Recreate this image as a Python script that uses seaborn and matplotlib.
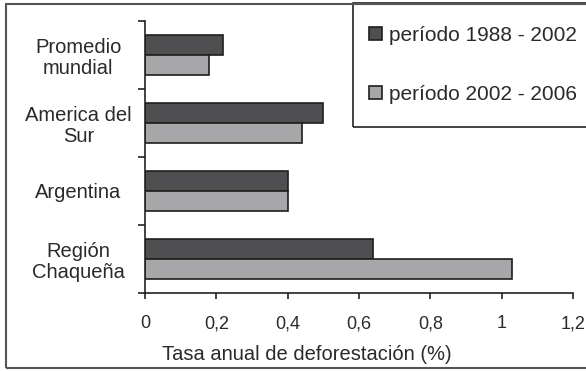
import numpy as np
import pandas as pd
import matplotlib
matplotlib.use("Agg")
import matplotlib.pyplot as plt
from matplotlib.patches import Rectangle
import seaborn as sns

# --- datos ---
regiones = ["Promedio\nmundial", "America del\nSur", "Argentina", "Región\nChaqueña"]
periodos = ["período 1988 - 2002", "período 2002 - 2006"]
tasa_1988_2002 = [0.22, 0.50, 0.40, 0.64]
tasa_2002_2006 = [0.18, 0.44, 0.40, 1.03]
xticks = [0, 0.2, 0.4, 0.6, 0.8, 1.0, 1.2]
xtick_labels = ["0", "0,2", "0,4", "0,6", "0,8", "1", "1,2"]

sns.set_style("white")
plt.rcParams["font.family"] = ["Liberation Sans", "DejaVu Sans"]

df = pd.DataFrame({
    "region": regiones * 2,
    "periodo": [periodos[0]] * 4 + [periodos[1]] * 4,
    "tasa": tasa_1988_2002 + tasa_2002_2006,
})

colores = {periodos[0]: "#4f4f51", periodos[1]: "#a7a7a9"}
TXT = "#2a2a2a"

fig = plt.figure(figsize=(5.86, 3.71), dpi=100)
ax = fig.add_axes([145 / 586, 1 - 293 / 371, (573 - 145) / 586, (293 - 21) / 371])

sns.barplot(data=df, x="tasa", y="region", hue="periodo", order=regiones,
            hue_order=periodos, palette=colores, orient="h", width=0.58,
            gap=0, edgecolor="#1e1e1e", linewidth=1.2, saturation=1,
            legend=True, ax=ax)

ax.set_xlim(0, 1.2)
ax.set_ylim(3.5, -0.5)
ax.set_xticks(xticks)
ax.set_xticklabels(xtick_labels, fontsize=13, color=TXT)
ax.set_yticks(range(4))
ax.set_yticklabels(regiones, fontsize=14.5, color=TXT, linespacing=1.15,
                   ha="center")
ax.set_yticks([-0.5, 0.5, 1.5, 2.5, 3.5], minor=True)
ax.tick_params(axis="y", which="major", left=False, length=0, pad=48)
ax.tick_params(axis="y", which="minor", left=True, length=5, width=1.2,
               color="#222")
ax.tick_params(axis="x", which="major", bottom=True, length=4, width=1.2,
               color="#222", direction="out", pad=12)
ax.set_xlabel("Tasa anual de deforestación (%)", fontsize=14.5, color=TXT)
ax.xaxis.set_label_coords(0.379, -0.19)
ax.set_ylabel("")
sns.despine(ax=ax, top=True, right=True)
for s in ["left", "bottom"]:
    ax.spines[s].set_color("#222")
    ax.spines[s].set_linewidth(1.2)

# leyenda en recuadro propio
handles, labels = ax.get_legend_handles_labels()
ax.get_legend().remove()
fig.patches.append(Rectangle((353 / 586, 1 - 127 / 371), 0.5, 124 / 371,
                             transform=fig.transFigure, fill=False,
                             edgecolor="#222", linewidth=1.2))
fig.legend(handles, labels, loc="center left",
           bbox_to_anchor=(369 / 586, 1 - 65 / 371), frameon=False,
           fontsize=15, labelcolor=TXT, handlelength=0.6,
           handleheight=0.6, handletextpad=0.35, labelspacing=1.9,
           borderpad=0, borderaxespad=0)

# marco exterior de la figura
fig.patches.append(Rectangle((6 / 586, 3 / 371), 1.0, 364 / 371,
                             transform=fig.transFigure, fill=False,
                             edgecolor="#555", linewidth=1.5))

fig.savefig("out.png", dpi=100)
